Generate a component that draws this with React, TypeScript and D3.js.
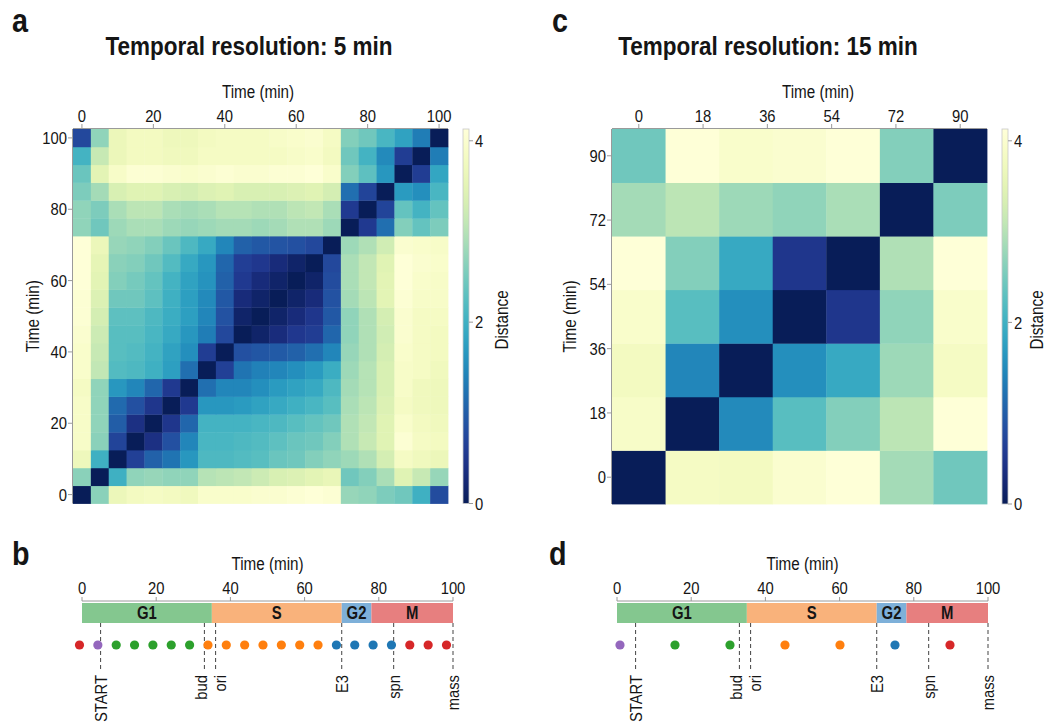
import React from "react";
import * as d3 from "d3";

// ---------- data ----------
const timesA = [0, 5, 10, 15, 20, 25, 30, 35, 40, 45, 50, 55, 60, 65, 70, 75, 80, 85, 90, 95, 100];
// distA[i][j]: distance between time timesA[i] (rows) and timesA[j] (columns)
const distA: number[][] = [
  [0, 2.65, 3.65, 3.8, 3.85, 3.8, 3.75, 3.95, 3.95, 3.95, 4.0, 4.0, 4.05, 4.1, 4.05, 2.75, 2.7, 2.55, 2.45, 2.0, 0.8],
  [2.65, 0, 2.0, 2.7, 2.75, 2.7, 2.7, 3.0, 3.05, 3.1, 3.2, 3.35, 3.4, 3.5, 3.6, 2.45, 2.6, 2.9, 3.45, 3.15, 2.75],
  [3.7, 2.0, 0, 0.65, 1.05, 1.25, 1.65, 2.15, 2.15, 2.2, 2.25, 2.4, 2.45, 2.6, 2.7, 2.8, 2.95, 3.3, 3.85, 3.75, 3.65],
  [3.9, 2.65, 0.7, 0, 0.4, 0.85, 1.45, 2.1, 2.1, 2.15, 2.2, 2.3, 2.4, 2.45, 2.6, 2.95, 3.15, 3.45, 4.05, 3.85, 3.8],
  [3.9, 2.7, 1.0, 0.4, 0, 0.5, 1.1, 2.05, 2.05, 2.05, 2.1, 2.15, 2.25, 2.35, 2.45, 2.95, 3.1, 3.45, 3.95, 3.8, 3.75],
  [3.9, 2.7, 1.15, 0.85, 0.5, 0, 0.55, 1.65, 1.65, 1.7, 1.8, 1.9, 2.0, 2.1, 2.25, 2.9, 3.05, 3.4, 3.85, 3.75, 3.7],
  [3.85, 2.7, 1.65, 1.45, 1.1, 0.55, 0, 1.2, 1.45, 1.45, 1.55, 1.7, 1.8, 1.9, 2.15, 2.85, 3.0, 3.35, 3.9, 3.75, 3.7],
  [3.95, 3.1, 2.2, 2.15, 2.0, 1.75, 1.2, 0, 0.65, 1.25, 1.4, 1.45, 1.55, 1.7, 1.95, 2.8, 3.0, 3.35, 3.9, 3.85, 3.75],
  [3.95, 3.15, 2.25, 2.2, 2.05, 1.8, 1.55, 0.6, 0, 0.85, 0.92, 0.97, 1.05, 1.2, 1.45, 2.75, 2.95, 3.3, 3.95, 3.85, 3.8],
  [4.0, 3.2, 2.25, 2.25, 2.1, 1.9, 1.65, 1.35, 0.75, 0, 0.15, 0.32, 0.52, 0.6, 1.1, 2.7, 2.95, 3.25, 4.0, 3.85, 3.8],
  [4.05, 3.3, 2.3, 2.3, 2.15, 1.95, 1.75, 1.45, 0.88, 0.15, 0, 0.15, 0.3, 0.5, 0.95, 2.7, 2.95, 3.3, 4.0, 3.85, 3.85],
  [4.05, 3.4, 2.45, 2.45, 2.3, 2.0, 1.75, 1.5, 0.95, 0.3, 0.15, 0, 0.15, 0.3, 0.88, 2.85, 3.05, 3.5, 4.05, 3.9, 3.9],
  [4.1, 3.5, 2.6, 2.5, 2.35, 2.05, 1.8, 1.6, 1.05, 0.55, 0.3, 0.15, 0, 0.15, 0.8, 2.9, 3.1, 3.5, 4.1, 3.95, 3.9],
  [4.1, 3.55, 2.65, 2.6, 2.45, 2.2, 1.9, 1.65, 1.1, 0.62, 0.52, 0.3, 0.15, 0, 0.75, 2.9, 3.1, 3.45, 4.1, 4.0, 3.95],
  [4.1, 3.65, 2.75, 2.7, 2.6, 2.4, 2.15, 1.9, 1.45, 1.05, 0.95, 0.9, 0.85, 0.75, 0, 2.8, 2.95, 3.25, 4.0, 3.95, 3.9],
  [2.7, 2.45, 2.8, 2.9, 2.9, 2.8, 2.75, 2.8, 2.85, 2.85, 2.8, 2.85, 2.95, 2.95, 2.8, 0, 0.55, 1.2, 2.6, 2.35, 2.55],
  [2.7, 2.55, 2.9, 3.05, 3.05, 2.9, 2.85, 2.9, 3.0, 3.0, 2.95, 2.95, 3.05, 3.1, 2.9, 0.55, 0, 0.7, 2.35, 2.05, 2.35],
  [2.55, 2.85, 3.35, 3.45, 3.45, 3.35, 3.3, 3.4, 3.45, 3.35, 3.35, 3.35, 3.4, 3.45, 3.3, 1.2, 0.7, 0, 1.7, 1.55, 2.1],
  [2.4, 3.5, 3.9, 4.05, 4.05, 4.0, 3.95, 4.0, 4.05, 4.0, 4.0, 4.05, 4.05, 4.1, 3.95, 2.6, 2.3, 1.65, 0, 0.6, 1.85],
  [2.05, 3.15, 3.65, 3.8, 3.8, 3.75, 3.75, 3.85, 3.85, 3.85, 3.85, 3.85, 3.9, 3.95, 3.8, 2.45, 2.05, 1.5, 0.6, 0, 1.35],
  [0.75, 2.7, 3.65, 3.8, 3.8, 3.7, 3.7, 3.8, 3.85, 3.85, 3.85, 3.9, 3.95, 4.0, 3.85, 2.6, 2.45, 2.1, 1.8, 1.35, 0],
];

const timesC = [0, 15, 30, 45, 60, 75, 90];
const distC: number[][] = [
  [0, 3.85, 3.8, 4.0, 4.1, 2.85, 2.45],
  [3.9, 0, 1.5, 2.25, 2.6, 3.05, 4.1],
  [3.8, 1.45, 0, 1.55, 1.9, 2.8, 3.85],
  [3.95, 2.25, 1.55, 0, 0.5, 2.7, 3.95],
  [4.1, 2.6, 1.9, 0.5, 0, 2.95, 4.1],
  [2.85, 3.05, 2.8, 2.7, 2.9, 0, 2.55],
  [2.45, 4.1, 3.95, 4.0, 4.1, 2.6, 0],
];

const ticksA = [0, 20, 40, 60, 80, 100];
const ticksC = [0, 18, 36, 54, 72, 90];
const colorbarTicks = [0, 2, 4];
const distMax = 4.13;

const phaseNames = ["G1", "S", "G2", "M"];
const phaseStart = [0, 35, 70, 78];
const phaseEnd = [35, 70, 78, 100];
const phaseFill = ["#84c78f", "#f9b27b", "#7eb0d9", "#e77f7f"];

const eventNames = ["START", "bud", "ori", "E3", "spn", "mass"];
const eventTimes = [5, 33, 36, 70, 84, 100];
const eventShift = [0, -4, 4, 0, 0, 0];

const timelineTicks = [0, 20, 40, 60, 80, 100];

const sampleTimesB = [0, 5, 10, 15, 20, 25, 30, 35, 40, 45, 50, 55, 60, 65, 70, 75, 80, 85, 90, 95, 100];
const sampleStageB = ["M", "START", "G1", "G1", "G1", "G1", "G1", "S", "S", "S", "S", "S", "S", "S", "G2", "G2", "G2", "G2", "M", "M", "M"];
const sampleTimesD = [0, 15, 30, 45, 60, 75, 90];
const sampleStageD = ["START", "G1", "G1", "S", "S", "G2", "M"];

const stageColor: Record<string, string> = {
  START: "#9467bd",
  G1: "#2ca02c",
  S: "#ff7f0e",
  G2: "#1f77b4",
  M: "#d62728",
};

// ---------- helpers ----------
const FONT = "'Liberation Sans', Arial, Helvetica, sans-serif";
const INK = "#151515";
const AXIS = "#9a9a9a";

const colorOf = (v: number) => d3.interpolateYlGnBu(Math.max(0, Math.min(1, 1 - v / distMax)));

type TxtProps = {
  x: number;
  y: number;
  rot?: number;
  sx?: number;
  size?: number;
  weight?: string | number;
  anchor?: "start" | "middle" | "end";
  dy?: string;
  children: React.ReactNode;
};

// Narrow-looking text: horizontal squeeze along the reading direction
function Txt({ x, y, rot = 0, sx = 0.87, size = 17, weight = "normal", anchor = "middle", dy, children }: TxtProps) {
  return (
    <text
      transform={`translate(${x},${y}) rotate(${rot}) scale(${sx},1)`}
      fontFamily={FONT}
      fontSize={size}
      fontWeight={weight}
      textAnchor={anchor}
      dy={dy}
      fill={INK}
    >
      {children}
    </text>
  );
}

type HeatProps = {
  times: number[];
  dist: number[][];
  step: number;
  ticks: number[];
  x0: number;
  x1: number;
  y0: number;
  y1: number;
  cbarX: number;
  topTitleX: number;
  yTitleX: number;
  distLabelX: number;
  gradId: string;
};

function Heatmap({ times, dist, step, ticks, x0, x1, y0, y1, cbarX, topTitleX, yTitleX, distLabelX, gradId }: HeatProps) {
  const lo = times[0] - step / 2;
  const hi = times[times.length - 1] + step / 2;
  const xs = d3.scaleLinear().domain([lo, hi]).range([x0, x1]);
  const ys = d3.scaleLinear().domain([lo, hi]).range([y1, y0]);
  const cs = d3.scaleLinear().domain([0, distMax]).range([y1, y0]);
  const stops = d3.range(0, 1.0001, 0.05);
  const cbarW = 6;
  return (
    <g>
      <defs>
        <linearGradient id={gradId} x1="0" y1="1" x2="0" y2="0">
          {stops.map((s) => (
            <stop key={s} offset={s} stopColor={colorOf(s * distMax)} />
          ))}
        </linearGradient>
      </defs>
      {dist.map((row, i) =>
        row.map((v, j) => {
          const xa = xs(times[j] - step / 2);
          const xb = xs(times[j] + step / 2);
          const ya = ys(times[i] + step / 2);
          const yb = ys(times[i] - step / 2);
          return (
            <rect
              key={`${i}-${j}`}
              x={xa}
              y={ya}
              width={xb - xa + 0.4}
              height={yb - ya + 0.4}
              fill={colorOf(v)}
            />
          );
        })
      )}
      {/* axis lines */}
      <line x1={x0} x2={x1} y1={y0 - 0.5} y2={y0 - 0.5} stroke={AXIS} strokeWidth={1} />
      <line x1={x0 - 0.5} x2={x0 - 0.5} y1={y0} y2={y1} stroke={AXIS} strokeWidth={1} />
      {ticks.map((t) => (
        <g key={`tx${t}`}>
          <line x1={xs(t)} x2={xs(t)} y1={y0 - 5} y2={y0} stroke={AXIS} />
          <Txt x={xs(t)} y={y0 - 7}>{t}</Txt>
        </g>
      ))}
      {ticks.map((t) => (
        <g key={`ty${t}`}>
          <line x1={x0 - 5} x2={x0} y1={ys(t)} y2={ys(t)} stroke={AXIS} />
          <Txt x={x0 - 6} y={ys(t)} anchor="end" dy="0.36em">{t}</Txt>
        </g>
      ))}
      <Txt x={topTitleX} y={98} size={17.5}>Time (min)</Txt>
      <Txt x={yTitleX} y={(y0 + y1) / 2} rot={-90} size={17.5} dy="0.36em">Time (min)</Txt>
      {/* colour bar */}
      <rect x={cbarX} y={y0} width={cbarW} height={y1 - y0} fill={`url(#${gradId})`} stroke="#c8c8c8" strokeWidth={0.8} />
      {colorbarTicks.map((t) => (
        <g key={`cb${t}`}>
          <line x1={cbarX + cbarW} x2={cbarX + cbarW + 4} y1={cs(t)} y2={cs(t)} stroke={AXIS} />
          <Txt x={cbarX + cbarW + 6} y={cs(t)} anchor="start" dy="0.36em">{t}</Txt>
        </g>
      ))}
      <Txt x={distLabelX} y={320} rot={-90} size={17.5} dy="0.36em">Distance</Txt>
    </g>
  );
}

type TimelineProps = {
  x0: number;
  x1: number;
  dotRange: [number, number];
  dotDomain: [number, number];
  sampleTimes: number[];
  sampleStage: string[];
};

function Timeline({ x0, x1, dotRange, dotDomain, sampleTimes, sampleStage }: TimelineProps) {
  const xs = d3.scaleLinear().domain([0, 100]).range([x0, x1]);
  const ds = d3.scaleLinear().domain(dotDomain).range(dotRange);
  const barTop = 603;
  const barBot = 623;
  return (
    <g>
      <Txt x={(x0 + x1) / 2} y={570} size={17.5}>Time (min)</Txt>
      <line x1={x0} x2={x1} y1={601} y2={601} stroke={AXIS} />
      {timelineTicks.map((t) => (
        <g key={`t${t}`}>
          <line x1={xs(t)} x2={xs(t)} y1={597} y2={601} stroke={AXIS} />
          <Txt x={xs(t)} y={594}>{t}</Txt>
        </g>
      ))}
      {phaseNames.map((p, i) => (
        <g key={p}>
          <rect
            x={xs(phaseStart[i])}
            y={barTop}
            width={xs(phaseEnd[i]) - xs(phaseStart[i])}
            height={barBot - barTop}
            fill={phaseFill[i]}
          />
          <Txt x={(xs(phaseStart[i]) + xs(phaseEnd[i])) / 2} y={(barTop + barBot) / 2} size={17.5} weight="bold" sx={0.85} dy="0.36em">
            {p}
          </Txt>
        </g>
      ))}
      {eventNames.map((e, i) => (
        <g key={e}>
          <line
            x1={xs(eventTimes[i])}
            x2={xs(eventTimes[i])}
            y1={barBot}
            y2={672}
            stroke="#555"
            strokeWidth={1.1}
            strokeDasharray="4 3"
          />
          <Txt x={xs(eventTimes[i]) + eventShift[i]} y={675} rot={-90} anchor="end" size={17} dy="0.36em">
            {e}
          </Txt>
        </g>
      ))}
      {sampleTimes.map((t, i) => (
        <circle key={`s${t}`} cx={ds(t)} cy={645} r={4.6} fill={stageColor[sampleStage[i]]} />
      ))}
    </g>
  );
}

export default function App() {
  return (
    <svg
      width={1046}
      height={722}
      viewBox="0 0 1046 722"
      style={{ position: "absolute", left: 0, top: 0, display: "block", background: "#fff" }}
    >
      {/* panel letters */}
      <Txt x={12} y={32} size={33} weight="bold" anchor="start">a</Txt>
      <Txt x={552} y={32} size={33} weight="bold" anchor="start">c</Txt>
      <Txt x={12} y={565} size={33} weight="bold" anchor="start">b</Txt>
      <Txt x={549} y={565} size={33} weight="bold" anchor="start">d</Txt>
      {/* titles */}
      <Txt x={249} y={55} size={25} weight="bold" sx={0.9}>Temporal resolution: 5 min</Txt>
      <Txt x={768} y={55} size={25} weight="bold" sx={0.9}>Temporal resolution: 15 min</Txt>

      <Heatmap
        times={timesA}
        dist={distA}
        step={5}
        ticks={ticksA}
        x0={73}
        x1={448}
        y0={129}
        y1={503.5}
        cbarX={463}
        topTitleX={258}
        yTitleX={33}
        distLabelX={502}
        gradId="cbarA"
      />
      <Heatmap
        times={timesC}
        dist={distC}
        step={15}
        ticks={ticksC}
        x0={612}
        x1={987}
        y0={129}
        y1={504}
        cbarX={1002}
        topTitleX={818}
        yTitleX={570}
        distLabelX={1037}
        gradId="cbarC"
      />

      <Timeline
        x0={82}
        x1={453}
        dotDomain={[0, 100]}
        dotRange={[79.5, 446.5]}
        sampleTimes={sampleTimesB}
        sampleStage={sampleStageB}
      />
      <Timeline
        x0={617}
        x1={988}
        dotDomain={[0, 90]}
        dotRange={[620, 950]}
        sampleTimes={sampleTimesD}
        sampleStage={sampleStageD}
      />
    </svg>
  );
}
